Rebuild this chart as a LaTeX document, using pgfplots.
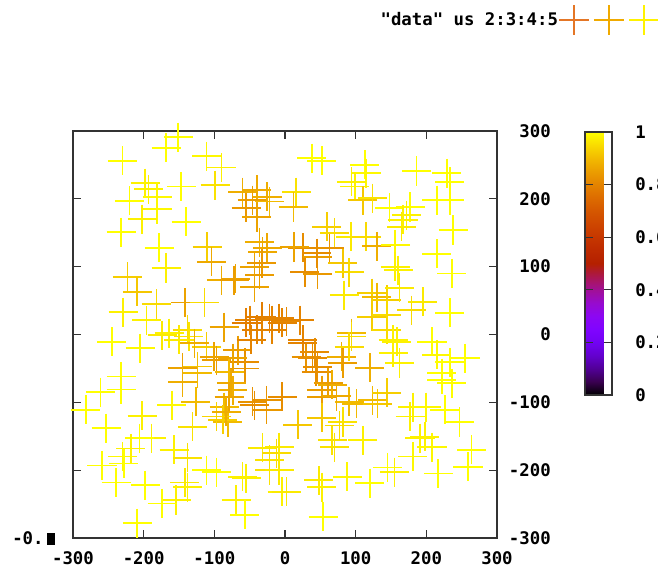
\documentclass[border=0pt]{standalone}
\usepackage{fontspec}
\newfontfamily\gp{DejaVu Sans Mono}
\usepackage{pgfplots}
\pgfplotsset{compat=1.18}
\usepackage{pgfplotstable}

\definecolor{legA}{RGB}{228,118,38}
\definecolor{legB}{RGB}{240,170,0}
\definecolor{legC}{RGB}{255,242,0}

% cross centres and their colour value
\pgfplotstableread{
x y c
-151 291 1.0
-168 275 1.0
-230 256 1.0
-111 263 0.99
-90 246 0.98
-147 218 1.0
-99 220 0.96
-198 223 0.98
-193 214 0.98
-181 203 0.99
-220 197 1.0
-181 185 0.99
-202 170 0.98
-232 151 1.0
-140 166 1.0
-178 128 1.0
-168 98 0.98
-110 129 0.93
-104 107 0.87
-90 80 0.88
-70 82 0.86
-223 85 0.93
-209 63 0.92
-229 33 0.98
-196 21 0.98
-182 45 0.95
-141 47 0.86
-114 47 0.95
-301 16 1.0
-43 100 0.86
-36 88 0.85
-43 70 0.86
-36 136 0.88
-32 122 0.87
-60 210 0.88
-40 213 0.87
-46 198 0.85
-25 203 0.88
-55 187 0.84
-40 173 0.86
-22 196 0.9
-50 21 0.8
-33 26 0.79
-18 21 0.8
-4 17 0.8
-40 7 0.8
-164 2 0.98
-138 7 0.95
-86 11 0.86
-25 128 0.87
-33 105 0.84
-72 80 0.85
-55 17 0.79
-22 24 0.79
-8 24 0.8
2 19 0.81
21 21 0.8
-33 7 0.8
-18 7 0.8
38 260 1.0
52 256 1.0
113 250 1.0
115 238 0.99
186 241 1.0
229 238 1.0
233 225 1.0
94 225 0.98
99 218 0.98
16 210 0.96
12 188 0.9
110 198 0.92
124 201 0.96
215 198 1.0
233 198 1.0
148 187 1.0
177 188 1.0
172 176 0.98
167 169 0.98
165 159 0.97
238 154 1.0
59 159 0.93
70 150 0.95
93 144 0.97
115 144 0.95
130 130 0.88
156 132 0.99
215 119 1.0
236 90 1.0
25 128 0.82
13 129 0.86
63 127 0.83
46 114 0.85
28 92 0.82
46 89 0.84
82 105 0.92
91 92 0.95
156 100 0.98
160 95 0.98
84 58 0.97
123 61 0.93
130 55 0.9
144 51 0.93
162 69 0.97
179 36 0.95
195 48 0.97
233 32 1.0
123 26 0.93
144 7 0.95
94 2 0.9
45 120 0.82
144 29 0.95
153 -8 0.98
-245 -11 1.0
-205 -20 0.99
-174 -1 0.97
-150 -8 0.97
-136 -3 0.96
-111 -18 0.93
-145 -49 0.86
-145 -70 0.88
-124 -47 0.92
-124 -57 0.9
-97 -38 0.85
-79 -55 0.9
-57 -41 0.82
-57 -50 0.83
-74 -82 0.88
-76 -72 0.87
-86 -107 0.9
-81 -129 0.9
-97 -121 0.94
-46 -99 0.83
-26 -97 0.83
-26 -111 0.84
-232 -62 1.0
-232 -81 1.0
-261 -85 1.0
-282 -111 1.0
-253 -138 1.0
-202 -120 0.98
-189 -153 0.98
-206 -153 1.0
-218 -168 0.98
-230 -180 0.99
-259 -193 1.0
-228 -190 1.0
-239 -218 1.0
-198 -222 1.0
-160 -104 0.99
-131 -136 0.96
-157 -170 0.98
-138 -182 0.96
-142 -218 0.97
-138 -225 0.98
-154 -244 0.98
-174 -249 1.0
-209 -278 1.0
-111 -200 1.0
-97 -203 1.0
-126 -99 0.9
-88 -126 0.93
-69 -244 0.98
-57 -266 1.0
-60 -210 0.98
-55 -212 0.98
-32 -167 0.97
-12 -175 0.95
-22 -200 0.96
-4 -232 0.98
-22 -185 0.96
-128 -13 0.88
-67 -23 0.85
-74 -35 0.86
-100 -33 0.86
-48 -8 0.8
-4 -92 0.82
-43 -104 0.82
-79 -92 0.86
-83 -114 0.88
94 -3 0.95
158 -11 0.98
208 -11 1.0
215 -30 0.99
233 -41 1.0
255 -35 1.0
222 -57 1.0
236 -72 1.0
222 -67 1.0
162 -42 0.98
153 -27 0.98
30 -33 0.83
44 -55 0.82
80 -33 0.88
82 -42 0.85
120 -49 0.88
91 -18 0.95
52 -82 0.85
52 -92 0.85
67 -74 0.88
91 -99 0.9
124 -97 0.9
144 -86 0.93
52 -123 0.92
82 -129 0.96
18 -133 0.92
181 -107 0.98
177 -121 0.98
200 -107 0.99
226 -111 1.0
247 -129 1.0
191 -153 0.98
198 -151 0.98
208 -166 0.99
181 -180 0.99
264 -170 1.0
259 -195 1.0
217 -205 1.0
67 -156 0.96
70 -166 0.96
110 -156 0.98
88 -210 0.99
120 -219 1.0
145 -196 1.0
155 -203 0.98
48 -215 0.97
52 -225 0.98
2 -232 0.97
54 -269 1.0
-8 -166 0.97
-8 -200 0.97
25 -13 0.8
39 -35 0.82
77 -134 0.95
25 -8 0.8
42 -26 0.82
46 -48 0.82
61 -71 0.85
73 -91 0.87
101 -102 0.9
131 -102 0.92
}\crosses

\pgfplotsset{
  every axis/.append style={
    /pgf/number format/assume math mode=true,
    tick label style={font=\gp\bfseries\fontsize{13}{15}\selectfont},
  },
}

\begin{document}
\begin{tikzpicture}
\begin{axis}[
  scale only axis,
  width=318pt, height=305.25pt,
  xmin=-300, xmax=300, ymin=-300, ymax=300,
  xtick={-300,-200,...,300}, ytick={-300,-200,...,300},
  tick align=inside, major tick length=6pt,
  xtick pos=both, ytick pos=both,
  xticklabel pos=lower, yticklabel pos=right,
  xticklabel style={anchor=north, inner sep=0pt, yshift=-9.75pt},
  yticklabel style={anchor=east, inner sep=0pt, xshift=40.5pt},
  axis line style={black!80, line width=0.8pt},
  every tick/.style={black!80, line width=0.8pt},
  colormap={gnuplot}{rgb255=(0,0,0) rgb255=(57,0,79) rgb255=(81,0,150)
    rgb255=(99,1,206) rgb255=(114,2,243) rgb255=(128,4,255) rgb255=(140,7,243)
    rgb255=(151,11,206) rgb255=(161,16,150) rgb255=(171,23,79) rgb255=(180,32,0)
    rgb255=(189,42,0) rgb255=(198,55,0) rgb255=(206,70,0) rgb255=(213,87,0)
    rgb255=(221,108,0) rgb255=(228,131,0) rgb255=(235,157,0) rgb255=(242,186,0)
    rgb255=(249,219,0) rgb255=(255,255,0)},
  point meta min=0, point meta max=1,
  colorbar,
  colorbar shift/.style={},
  colorbar style={
    at={(parent axis.north east)}, anchor=north west,
    xshift=66pt, yshift=-0.75pt,
    scale only axis, width=20.25pt, height=197.25pt,
    ytick={0,0.2,0.4,0.6,0.8,1},
    yticklabels={0,0.2,0.4,0.6,0.8,1},
    tick align=inside, major tick length=6pt,
    ytick pos=both, yticklabel pos=right,
    yticklabel style={anchor=west, inner sep=0pt, xshift=17.25pt},
    axis line style={black!80, line width=0.8pt},
    every tick/.style={black!80, line width=0.8pt},
  },
  legend style={
    at={(axis description cs:1,1)}, anchor=east,
    xshift=122.25pt, yshift=83.25pt,
    draw=none, fill=none, inner sep=0pt,
    nodes={inner sep=0pt}, column sep=0pt,
    font=\gp\bfseries\fontsize{13}{15}\selectfont,
  },
  legend plot pos=right,
]
% each record is drawn as a cross of half-width 21 units, coloured by c
\addplot[
  scatter, only marks, mark=+, mark size=10.9pt,
  point meta=explicit,
  scatter/use mapped color={draw=mapped color, fill=mapped color},
  mark options={line width=1.3pt},
  legend image code/.code={
    \draw[line width=1.3pt, legA] (-1.5pt,0pt) -- (21pt,0pt) (9.75pt,-11.25pt) -- (9.75pt,11.25pt);
    \draw[line width=1.3pt, legB] (24.75pt,0pt) -- (47.25pt,0pt) (36pt,-11.25pt) -- (36pt,11.25pt);
    \draw[line width=1.3pt, legC] (51pt,0pt) -- (73.5pt,0pt) (62.25pt,-11.25pt) -- (62.25pt,11.25pt);
  },
] table[x=x, y=y, meta=c] {\crosses};
\addlegendentry{"data" us 2:3:4:5}
\end{axis}
% stray label at the lower left corner
\node[anchor=west, inner sep=0pt, font=\gp\bfseries\fontsize{13}{15}\selectfont] at (-45.75pt,0pt) {-0.};
\fill[black] (-19.5pt,-5.25pt) rectangle (-13.5pt,3.75pt);
\pgfresetboundingbox
\path[use as bounding box] (-54.75pt,-27pt) rectangle (438.75pt,403.5pt);
\end{tikzpicture}
\end{document}
